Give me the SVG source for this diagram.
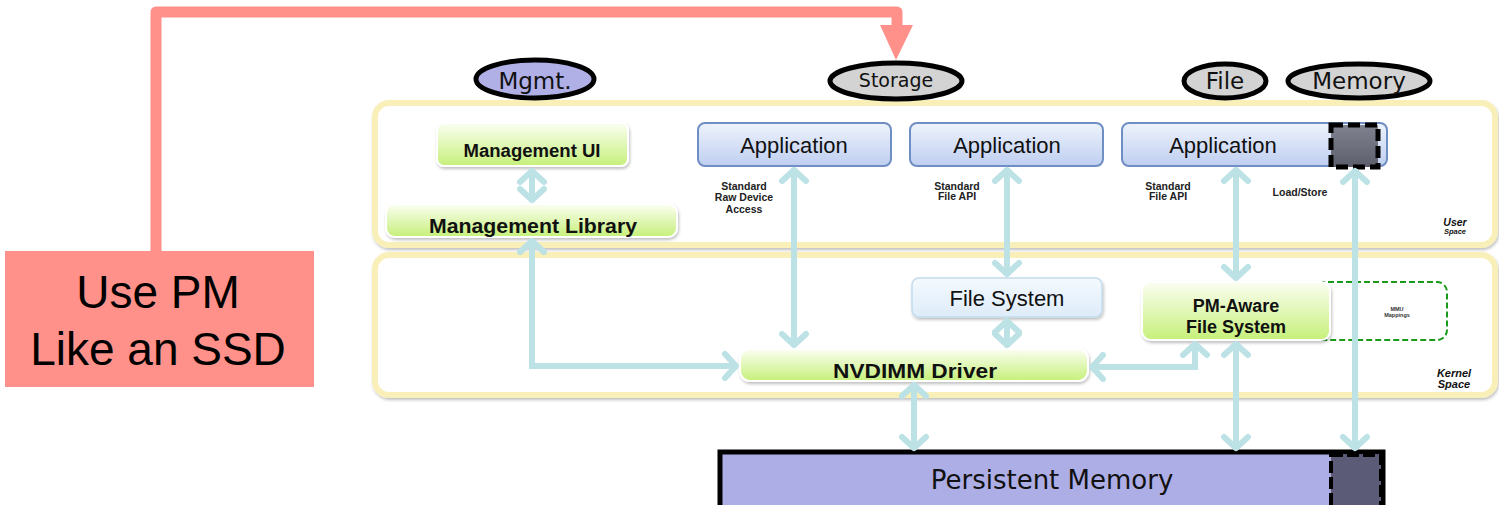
<svg xmlns="http://www.w3.org/2000/svg" width="1499" height="505" viewBox="0 0 1499 505">
<defs>
<style>
.cont{fill:#fff;stroke:#f8f0b8;stroke-width:6}
.oval{stroke:#000;stroke-width:5}
.otxt{font-family:"DejaVu Sans",sans-serif;fill:#111;text-anchor:middle}
.green{fill:url(#gg);stroke:#fff;stroke-width:2}
.app{fill:url(#bg);stroke:#6f8fc4;stroke-width:2}
.apptxt{font-family:"Liberation Sans",Arial,sans-serif;font-size:22px;fill:#111;text-anchor:middle}
.btxt{font-family:"Liberation Sans",Arial,sans-serif;font-weight:bold;fill:#111;text-anchor:middle}
.small{font-family:"Liberation Sans",Arial,sans-serif;font-weight:bold;font-size:10.5px;fill:#222;text-anchor:middle}
.ital{font-family:"Liberation Sans",Arial,sans-serif;font-weight:bold;font-style:italic;fill:#111;text-anchor:middle}
.conn{fill:none;stroke:#bde2e5;stroke-width:6;marker-start:url(#ah);marker-end:url(#ah)}
</style>
<linearGradient id="gg" x1="0" y1="0" x2="0" y2="1"><stop offset="0" stop-color="#fbfef2"/><stop offset="1" stop-color="#c6f07a"/></linearGradient>
<linearGradient id="bg" x1="0" y1="0" x2="0" y2="1"><stop offset="0" stop-color="#eef3fc"/><stop offset="1" stop-color="#bfcff1"/></linearGradient>
<linearGradient id="fsg" x1="0" y1="0" x2="0" y2="1"><stop offset="0" stop-color="#f4f9fe"/><stop offset="1" stop-color="#ddecf9"/></linearGradient>
<linearGradient id="dg" x1="0" y1="0" x2="0" y2="1"><stop offset="0" stop-color="#80838f"/><stop offset="1" stop-color="#5c5e6c"/></linearGradient>
<filter id="sh" x="-10%" y="-20%" width="120%" height="150%"><feDropShadow dx="1" dy="2" stdDeviation="1.5" flood-color="#000" flood-opacity="0.25"/></filter>
<marker id="ah" viewBox="-18 -16 24 32" refX="2" refY="0" markerWidth="24" markerHeight="32" markerUnits="userSpaceOnUse" orient="auto-start-reverse">
<path d="M-11,-12 L0,0 L-11,12" fill="none" stroke="#bde2e5" stroke-width="6" stroke-linecap="round" stroke-linejoin="round"/>
</marker>
</defs>
<rect width="1499" height="505" fill="#fff"/>

<g id="user-space">
<rect class="cont" x="375" y="103" width="1120" height="142" rx="14" filter="url(#sh)"/>
<text class="ital" x="1455" y="226" font-size="10.5">User</text>
<text class="ital" x="1455" y="234" font-size="7.5">Space</text>
</g>
<g id="kernel-space">
<rect class="cont" x="375" y="255" width="1120" height="140" rx="14" filter="url(#sh)"/>
<text class="ital" x="1454" y="377" font-size="11">Kernel</text>
<text class="ital" x="1454" y="388" font-size="11">Space</text>
</g>

<g id="use-pm">
<path d="M156,251 L156,12 L897,12 L897,26" fill="none" stroke="#ff918a" stroke-width="11" stroke-linejoin="round"/>
<polygon points="880,25 913,25 896,60" fill="#ff918a"/>
<rect x="5" y="251" width="309" height="136" fill="#ff918a"/>
<text x="158" y="308" font-family="Liberation Sans,Arial,sans-serif" font-size="46" text-anchor="middle" fill="#000">Use PM</text>
<text x="158" y="365" font-family="Liberation Sans,Arial,sans-serif" font-size="46" text-anchor="middle" fill="#000">Like an SSD</text>
</g>

<g id="mgmt-oval"><ellipse class="oval" cx="535" cy="79" rx="59" ry="19" fill="#b0b0e6"/><text class="otxt" x="535" y="89" font-size="23">Mgmt.</text></g>
<g id="storage-oval"><ellipse class="oval" cx="896" cy="81" rx="66" ry="18" fill="#d3d3d3"/><text class="otxt" x="896" y="87" font-size="19">Storage</text></g>
<g id="file-oval"><ellipse class="oval" cx="1225" cy="81" rx="41" ry="17" fill="#d3d3d3"/><text class="otxt" x="1225" y="89" font-size="23">File</text></g>
<g id="memory-oval"><ellipse class="oval" cx="1359" cy="81" rx="71" ry="17" fill="#d3d3d3"/><text class="otxt" x="1359" y="89" font-size="23">Memory</text></g>

<g id="management-ui"><rect class="green" x="437" y="123" width="191" height="43" rx="7" filter="url(#sh)"/><text class="btxt" x="532" y="157" font-size="18" textLength="137" lengthAdjust="spacingAndGlyphs">Management UI</text></g>
<g id="management-library"><rect class="green" x="386" y="204" width="291" height="33" rx="9" filter="url(#sh)"/><text class="btxt" x="533" y="233" font-size="21" textLength="208" lengthAdjust="spacingAndGlyphs">Management Library</text></g>

<g id="app1"><rect class="app" x="698" y="123" width="193" height="43" rx="7"/><text class="apptxt" x="794" y="153">Application</text></g>
<g id="app2"><rect class="app" x="910" y="123" width="193" height="43" rx="7"/><text class="apptxt" x="1007" y="153">Application</text></g>
<g id="app3"><rect class="app" x="1122" y="123" width="265" height="43" rx="7"/><text class="apptxt" x="1223" y="153">Application</text>
<rect x="1331" y="125" width="47" height="42" fill="url(#dg)" stroke="#000" stroke-width="5" stroke-dasharray="12,5"/></g>

<g id="labels">
<text class="small" x="744" y="190">Standard</text>
<text class="small" x="744" y="201">Raw Device</text>
<text class="small" x="744" y="213">Access</text>
<text class="small" x="957" y="190">Standard</text>
<text class="small" x="957" y="200">File API</text>
<text class="small" x="1168" y="190">Standard</text>
<text class="small" x="1168" y="200">File API</text>
<text class="small" x="1300" y="196">Load/Store</text>
</g>

<g id="mmu-mappings"><rect x="1300" y="282" width="147" height="58" rx="10" fill="none" stroke="#1a9a1a" stroke-width="2" stroke-dasharray="6,3"/>
<text x="1397" y="311" font-family="Liberation Sans,Arial,sans-serif" font-size="5.5" font-weight="bold" text-anchor="middle" fill="#333">MMU</text>
<text x="1397" y="317" font-family="Liberation Sans,Arial,sans-serif" font-size="5.5" font-weight="bold" text-anchor="middle" fill="#333">Mappings</text></g>

<g id="file-system"><rect x="912" y="278" width="190" height="39" rx="7" fill="url(#fsg)" stroke="#c4dbec" stroke-width="1.5" filter="url(#sh)"/><text class="apptxt" x="1007" y="306" font-size="20">File System</text></g>
<g id="pm-aware-fs"><rect class="green" x="1142" y="282" width="188" height="58" rx="9" filter="url(#sh)"/><text class="btxt" x="1236" y="312" font-size="18">PM-Aware</text><text class="btxt" x="1236" y="333" font-size="18">File System</text></g>
<g id="nvdimm-driver"><rect class="green" x="740" y="349" width="348" height="32" rx="10" filter="url(#sh)"/><text class="btxt" x="915" y="378" font-size="20" textLength="164" lengthAdjust="spacingAndGlyphs">NVDIMM Driver</text></g>

<g id="persistent-memory">
<rect x="720" y="452" width="663" height="60" fill="#aeaee6" stroke="#000" stroke-width="5"/>
<rect x="1331" y="455" width="50" height="55" fill="#5b5b78" stroke="#000" stroke-width="4" stroke-dasharray="12,4"/>
<text class="otxt" x="1052" y="489" font-size="26">Persistent Memory</text>
</g>

<g id="connectors">
<path class="conn" d="M532,169 L532,202"/>
<path class="conn" d="M532,239 L532,366 L738,366"/>
<path class="conn" d="M794,168 L794,347"/>
<path class="conn" d="M1007,168 L1007,276"/>
<path class="conn" d="M1007,319 L1007,347"/>
<path class="conn" d="M1090,367 L1195,367 L1195,342"/>
<path class="conn" d="M1236,168 L1236,280"/>
<path class="conn" d="M1236,342 L1236,450"/>
<path class="conn" d="M1355,169 L1355,450"/>
<path class="conn" d="M914,383 L914,450"/>
</g>
</svg>
